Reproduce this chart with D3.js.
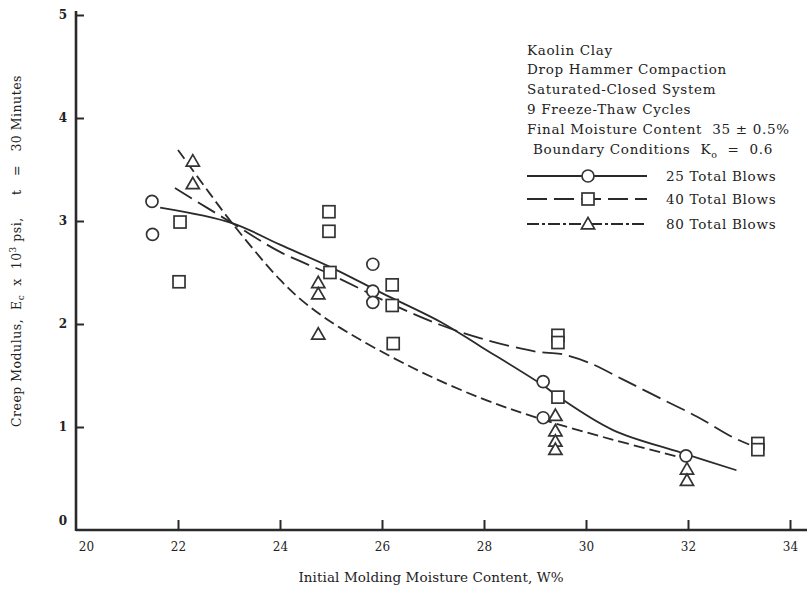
<!DOCTYPE html>
<html>
<head>
<meta charset="utf-8">
<script src="https://cdn.jsdelivr.net/npm/d3@7"></script>
<style>
  body { margin: 0; background: #fff; }
  svg { display: block; }
  text { font-family: "DejaVu Serif", "Liberation Serif", serif; fill: #222; white-space: pre; }
</style>
</head>
<body>
<svg id="chart" width="807" height="591"></svg>
<script>
// Axis ticks
const xTicks = [20, 22, 24, 26, 28, 30, 32, 34];
const yTicks = [0, 1, 2, 3, 4, 5];

// Measured points: initial molding moisture content (%) vs creep modulus (10^3 psi)
const blows25X = [21.49, 21.5, 25.82, 25.82, 25.82, 29.16, 29.16, 31.96];
const blows25Y = [3.19, 2.87, 2.58, 2.32, 2.21, 1.44, 1.09, 0.72];

const blows40X = [22.04, 22.02, 24.96, 24.96, 24.98, 26.2, 26.2, 26.22, 29.45, 29.45, 29.45, 33.37, 33.37];
const blows40Y = [2.99, 2.41, 3.09, 2.90, 2.50, 2.38, 2.18, 1.81, 1.89, 1.82, 1.29, 0.84, 0.78];

const blows80X = [22.29, 22.29, 24.75, 24.75, 24.75, 29.4, 29.4, 29.4, 29.4, 31.98, 31.98];
const blows80Y = [3.58, 3.36, 2.40, 2.29, 1.90, 1.11, 0.96, 0.86, 0.78, 0.59, 0.48];

// Hand-fitted trend curves
const curve25X = [21.65, 23.06, 24.0, 25.0, 26.0, 27.15, 27.94, 29.17, 29.47, 30.53, 31.87, 32.95];
const curve25Y = [3.13, 2.98, 2.77, 2.55, 2.30, 2.02, 1.78, 1.40, 1.29, 0.97, 0.75, 0.58];

const curve40X = [21.94, 23.06, 24.0, 25.0, 26.2, 27.15, 27.94, 29.04, 29.5, 30.08, 30.73, 31.45, 32.18, 32.88, 33.2];
const curve40Y = [3.32, 2.98, 2.70, 2.48, 2.19, 1.99, 1.86, 1.73, 1.71, 1.62, 1.46, 1.28, 1.10, 0.90, 0.83];

const curve80X = [22.0, 22.5, 23.06, 24.0, 24.5, 25.19, 26.62, 27.94, 29.1, 30.5, 31.9];
const curve80Y = [3.69, 3.35, 2.98, 2.43, 2.20, 1.96, 1.57, 1.28, 1.08, 0.88, 0.70];

// Annotation block and legend
const noteLines = [
  "Kaolin Clay",
  "Drop Hammer Compaction",
  "Saturated-Closed System",
  "9 Freeze-Thaw Cycles",
  "Final Moisture Content  35 ± 0.5%"
];
const legendLabels = ["25 Total Blows", "40 Total Blows", "80 Total Blows"];

const ink = "#2a2a2a";
const svg = d3.select("#chart");

const x = d3.scaleLinear().domain([20, 34]).range([76, 790]);
const y = d3.scaleLinear().domain([0, 5]).range([530, 15]);

// ---- axes ----
const gx = svg.append("g").attr("transform", `translate(0,${y(0)})`);
gx.call(d3.axisTop(x).tickValues(xTicks.slice(1)).tickSize(10).tickSizeOuter(0).tickFormat(""));
gx.select(".domain").remove();
gx.selectAll(".tick line").attr("stroke", ink).attr("stroke-width", 2);

const gxl = svg.append("g").attr("transform", `translate(0,${y(0)})`);
gxl.call(d3.axisBottom(x).tickValues(xTicks).tickSize(0).tickPadding(12).tickFormat(d3.format("d")));
gxl.select(".domain").remove();
gxl.selectAll(".tick text")
  .attr("font-size", 12).attr("font-family", '"DejaVu Serif", serif').attr("fill", "#333")
  .attr("dx", d => d === 20 ? 10 : 0);

const gy = svg.append("g").attr("transform", `translate(${x(20)},0)`);
gy.call(d3.axisRight(y).tickValues(yTicks.slice(1)).tickSize(8).tickSizeOuter(0).tickFormat(""));
gy.select(".domain").remove();
gy.selectAll(".tick line").attr("stroke", ink).attr("stroke-width", 2);

const gyl = svg.append("g").attr("transform", `translate(${x(20)},0)`);
gyl.call(d3.axisLeft(y).tickValues(yTicks).tickSize(0).tickPadding(9).tickFormat(d3.format("d")));
gyl.select(".domain").remove();
gyl.selectAll(".tick text")
  .attr("font-size", 12).attr("font-weight", "bold").attr("font-family", '"DejaVu Serif", serif').attr("fill", "#222")
  .attr("dy", d => d === 0 ? "-0.45em" : "0.32em");

// axis lines
svg.append("line").attr("x1", x(20)).attr("x2", 807).attr("y1", y(0)).attr("y2", y(0))
  .attr("stroke", ink).attr("stroke-width", 2.6);
svg.append("line").attr("x1", x(20)).attr("x2", x(20)).attr("y1", y(0) + 1).attr("y2", 11)
  .attr("stroke", ink).attr("stroke-width", 2.6);

// axis titles
svg.append("text")
  .attr("x", 431).attr("y", 582).attr("text-anchor", "middle").attr("font-size", 13.5)
  .attr("letter-spacing", 0.1)
  .text("Initial Molding Moisture Content, W%");

const yTitle = svg.append("text")
  .attr("transform", "translate(21,251) rotate(-90)")
  .attr("text-anchor", "middle").attr("font-size", 12.5).attr("letter-spacing", 0.5);
yTitle.append("tspan").text("Creep Modulus,  E");
yTitle.append("tspan").attr("font-size", 9).attr("dy", 3).text("c");
yTitle.append("tspan").attr("dy", -3).text("  x  10");
yTitle.append("tspan").attr("font-size", 9).attr("dy", -5).text("3");
yTitle.append("tspan").attr("dy", 5).text(" psi,     t   =   30 Minutes");

// ---- curves ----
const line = d3.line().x(d => x(d[0])).y(d => y(d[1])).curve(d3.curveCatmullRom.alpha(0.5));
const series = [
  { cx: curve25X, cy: curve25Y, dash: null },
  { cx: curve40X, cy: curve40Y, dash: "20,7" },
  { cx: curve80X, cy: curve80Y, dash: "11,5" }
];
series.forEach(s => {
  svg.append("path")
    .attr("d", line(d3.zip(s.cx, s.cy)))
    .attr("fill", "none").attr("stroke", ink).attr("stroke-width", 1.8)
    .attr("stroke-dasharray", s.dash);
});

// ---- markers ----
const mk = { fill: "#fff", stroke: "#333", sw: 1.7 };
function circle(g, cx, cy) {
  g.append("circle").attr("cx", cx).attr("cy", cy).attr("r", 6)
    .attr("fill", mk.fill).attr("stroke", mk.stroke).attr("stroke-width", mk.sw);
}
function square(g, cx, cy) {
  g.append("rect").attr("x", cx - 6).attr("y", cy - 6).attr("width", 12).attr("height", 12)
    .attr("fill", mk.fill).attr("stroke", mk.stroke).attr("stroke-width", mk.sw);
}
const tri = d3.symbol().type(d3.symbolTriangle).size(75);
function triangle(g, cx, cy) {
  g.append("path").attr("d", tri()).attr("transform", `translate(${cx},${cy + 1})`)
    .attr("fill", mk.fill).attr("stroke", mk.stroke).attr("stroke-width", mk.sw);
}

const pts = svg.append("g");
d3.zip(blows25X, blows25Y).forEach(d => circle(pts, x(d[0]), y(d[1])));
d3.zip(blows40X, blows40Y).forEach(d => square(pts, x(d[0]), y(d[1])));
d3.zip(blows80X, blows80Y).forEach(d => triangle(pts, x(d[0]), y(d[1])));

// ---- annotation and legend ----
const note = svg.append("g").attr("font-size", 13.5).attr("letter-spacing", 0.7);
const noteY = [50, 69, 89, 109, 129];
noteLines.forEach((t, i) => {
  note.append("text").attr("x", 527).attr("y", noteY[i]).attr("dy", "0.35em").text(t);
});
const bc = note.append("text").attr("x", 533).attr("y", 149).attr("dy", "0.35em");
bc.append("tspan").text("Boundary Conditions  K");
bc.append("tspan").attr("font-size", 9.5).attr("dy", 4).text("o");
bc.append("tspan").attr("dy", -4).text("  =  0.6");

const legY = [176, 199, 224];
const legDash = [null, "20,7", "12,3,3,3"];
const legMark = [circle, square, triangle];
legendLabels.forEach((t, i) => {
  svg.append("line").attr("x1", 527).attr("x2", 647).attr("y1", legY[i]).attr("y2", legY[i])
    .attr("stroke", ink).attr("stroke-width", 1.8).attr("stroke-dasharray", legDash[i]);
  legMark[i](svg, 588, legY[i]);
  svg.append("text").attr("x", 666).attr("y", legY[i]).attr("dy", "0.35em")
    .attr("font-size", 13.5).attr("letter-spacing", 0.7).text(t);
});
</script>
</body>
</html>
